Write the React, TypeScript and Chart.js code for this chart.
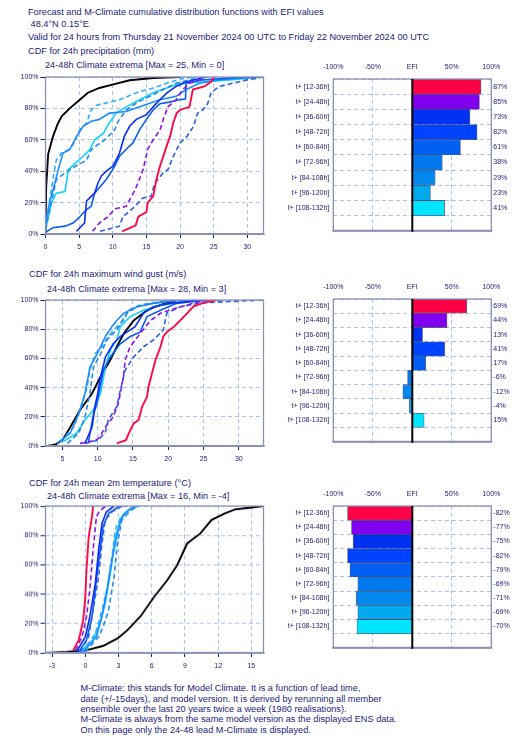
import React, { useEffect, useRef } from 'react';
import { Chart, registerables } from 'chart.js';
Chart.register(...registerables);

const NAVY = '#1c1c78';
const GRID = '#a9c3f2';
const FRAME = '#8a90b4';
const FONT = '"Liberation Sans", Arial, Helvetica, sans-serif';

type Pt = [number, number];

// ---------- categories / ticks ----------
const LEADS = ['t+ [12-36h]', 't+ [24-48h]', 't+ [36-60h]', 't+ [48-72h]', 't+ [60-84h]', 't+ [72-96h]', 't+ [84-108h]', 't+ [96-120h]', 't+ [108-132h]', ''];
const CDF_Y_TICKS = [0, 20, 40, 60, 80, 100];
const EFI_X_TICKS = [-100, -50, 0, 50, 100];
const PRECIP_X_TICKS = [0, 5, 10, 15, 20, 25, 30];
const WIND_X_TICKS = [5, 10, 15, 20, 25, 30];
const TEMP_X_TICKS = [-3, 0, 3, 6, 9, 12, 15];

// ---------- EFI values (%) ----------
const EFI_PRECIP = [87, 85, 73, 82, 61, 38, 29, 23, 41];
const EFI_WIND = [69, 44, 13, 41, 17, -6, -12, -4, 15];
const EFI_TEMP = [-82, -77, -75, -82, -79, -69, -71, -69, -70];

// ---------- precipitation CDFs (mm, %) ----------
const P_CLIM: Pt[] = [[0, 0.5], [0.1, 30], [0.4, 51], [1.1, 62], [1.8, 70], [2.4, 75], [3.6, 80], [5.1, 85.5], [6.3, 90], [8, 93], [9.8, 95], [12.5, 97.9], [16, 99.4], [20, 100]];
const P_12_36: Pt[] = [[11.4, 1.7], [13.4, 5.5], [13.8, 11], [15, 14], [15.2, 20], [16, 24], [16.5, 35], [17, 43], [17.7, 52], [18, 56], [18.5, 62], [19, 71], [19.5, 77], [20, 79], [21.4, 81], [21.9, 92], [23.6, 94], [24.6, 97], [24.9, 99], [25.1, 100]];
const P_24_48: Pt[] = [[7, 1.7], [8, 7], [9.3, 11], [10.3, 16], [12, 17.6], [13.3, 28], [13.7, 32], [14.5, 41], [15.2, 54], [16, 60], [17, 66], [17.5, 73], [18.2, 81], [19.4, 85.5], [20.4, 92], [21.4, 96], [22.8, 98], [23.6, 100]];
const P_36_60: Pt[] = [[4.6, 1.7], [5.8, 7], [6.1, 21], [6.8, 24], [7.3, 26], [7.8, 32.5], [8.3, 37], [9.3, 41], [10, 43], [11, 51.6], [11.7, 62], [12.5, 68.6], [13.5, 73], [15, 76], [16, 81], [17, 85.5], [18.1, 90], [19.4, 94], [21, 97], [22.9, 99], [23.9, 100]];
const P_48_72: Pt[] = [[8.1, 1.7], [11, 5], [11.5, 11], [13, 16.5], [14.5, 23], [15.7, 24], [16.2, 32], [17.5, 39], [18.2, 41], [19, 49.5], [20, 58], [21, 62], [22, 68.6], [22.6, 77], [23.4, 79], [24.1, 83], [24.6, 90], [25.8, 94], [27.8, 96], [29.8, 98], [32.4, 100]];
const P_60_84: Pt[] = [[0, 1], [1.1, 4], [2.9, 5], [4.1, 7], [5.1, 11], [6.1, 15.5], [6.8, 17.6], [7.3, 26], [9, 34.6], [10, 41], [11, 49.5], [12, 54], [13, 58], [14, 66.5], [15, 73], [16, 79], [17, 83], [18.4, 84], [19.9, 85.5], [20.8, 86], [20.9, 96], [23, 98], [28, 99.5], [32.4, 100]];
const P_72_96: Pt[] = [[0, 2.8], [1.6, 34.6], [2.9, 38.8], [3.6, 41], [4.8, 44], [6.1, 47], [6.8, 53.7], [7.8, 57], [8.8, 60], [9.5, 63], [10.3, 66.5], [10.8, 71.8], [12, 79], [13.5, 83.4], [15.5, 87.7], [17.5, 92], [19.4, 96], [21.9, 98.7], [23.9, 100]];
const P_84_108: Pt[] = [[0, 5], [0.6, 20], [1.4, 32.5], [1.9, 41], [2.6, 51.6], [3.6, 53.7], [4.6, 62], [5.6, 68.6], [6.8, 71.8], [8, 73], [9.5, 77], [12, 78], [14, 81], [17, 85.5], [19.4, 87.7], [20.9, 92], [22.9, 96], [25.9, 98.3], [30.8, 100]];
const P_96_120: Pt[] = [[0, 5], [0.4, 15.5], [1.1, 34.6], [1.6, 47], [2.4, 51.6], [3.4, 53.7], [4.1, 57], [5.1, 66.5], [6.1, 70.7], [6.8, 79], [7.6, 82], [9, 83.4], [11, 85.5], [13.5, 90], [16, 93], [18, 96], [20, 98.7], [22, 100]];
const P_108_132: Pt[] = [[0, 2.8], [0.9, 20], [1.6, 26], [2.9, 27], [3.4, 41], [4.4, 45], [5.6, 49.5], [6.6, 53.7], [7.3, 60], [8.6, 64], [9.3, 69.6], [10.5, 77], [12, 81], [14, 85.5], [16, 90], [18, 93], [20, 96], [23.9, 97], [27.8, 98.3], [32.4, 100]];

// ---------- wind gust CDFs (m/s, %) ----------
const W_CLIM: Pt[] = [[2.8, 0], [3.5, 0.5], [4, 1], [5, 4], [6, 12], [7.5, 24.7], [9.2, 36], [10.4, 47.5], [11.8, 59], [12.7, 68], [13.7, 77], [15.1, 86], [17, 93], [18.9, 96.6], [21.2, 100]];
const W_12_36: Pt[] = [[12.7, 1.8], [14, 4], [14.4, 8.7], [15.1, 15.5], [15.8, 17.8], [16.3, 27], [17, 33.8], [17.2, 40.6], [17.7, 49.8], [18.2, 59], [18.9, 68], [19.3, 75], [19.8, 78], [20.8, 81.7], [21.7, 86], [22.7, 91], [23.6, 95.6], [25, 98], [26.9, 100]];
const W_24_48: Pt[] = [[7.5, 1.8], [8.9, 3], [10.1, 5], [11.1, 13], [12.2, 20], [12.9, 29], [13.4, 40.6], [13.7, 49.8], [13.9, 59], [14.6, 68], [16, 77], [17.5, 86], [18.9, 91], [20.8, 94], [22.7, 96.6], [24.6, 99], [25.5, 100]];
const W_36_60: Pt[] = [[8.2, 1.8], [9.2, 13], [9.6, 27], [10, 36], [10.4, 47.5], [11.1, 61], [12.2, 70], [13.2, 75], [14.6, 79.5], [15.3, 81.7], [16.5, 91], [17.9, 95.4], [20.3, 97.7], [23.6, 99.5], [25.5, 100]];
const W_48_72: Pt[] = [[8.2, 1.8], [10.1, 4], [11.1, 9.8], [11.5, 17.8], [12.7, 27], [13.2, 38], [13.9, 52], [15.1, 61], [16.5, 68], [17.9, 72.6], [19.3, 79.5], [19.8, 91], [21.7, 95.4], [24.6, 98], [33.5, 100]];
const W_60_84: Pt[] = [[8.7, 3], [9.4, 22], [9.9, 29], [10.8, 52], [11.8, 61], [12.7, 67], [13.2, 70], [14.6, 75], [16, 78], [17, 88.6], [18.9, 93], [21.2, 97.7], [24.6, 99.5], [27.4, 100]];
const W_72_96: Pt[] = [[5.7, 1.8], [7.3, 8.7], [8.2, 20], [8.9, 36], [9.4, 54], [10.4, 63], [11.3, 72.6], [12.7, 79.5], [14.1, 91], [15.6, 95.4], [17.9, 98], [20.8, 100]];
const W_84_108: Pt[] = [[4.2, 1.8], [6.1, 8.7], [7.3, 22], [8.2, 36], [8.9, 54], [9.9, 63], [11.1, 75], [12, 81.7], [12.7, 86], [13.7, 91], [15.6, 95.4], [17.9, 97.7], [20.8, 99.5], [23.6, 100]];
const W_96_120: Pt[] = [[4.7, 3], [6.6, 13], [7.7, 27], [8.5, 40.6], [8.9, 52], [9.6, 63], [10.6, 68], [11.5, 75], [12.7, 81.7], [13.7, 86], [14.4, 93], [16, 96.6], [18.9, 98.9], [21.2, 100]];
const W_108_132: Pt[] = [[5.1, 3], [7, 8.7], [8.2, 17.8], [9.4, 24.7], [10.4, 36], [11.1, 54], [11.8, 65.8], [12.7, 72.6], [13.2, 81.7], [14.6, 88.6], [16.5, 93], [18.9, 96.6], [22.7, 99], [26.4, 100]];

// ---------- 2m temperature CDFs (°C, %) ----------
const T_CLIM: Pt[] = [[-3.6, 0], [-1.7, 0.7], [0.1, 1.8], [1.6, 4.8], [2.9, 9.8], [3.8, 15.5], [5, 25], [6.2, 38], [7.4, 49.5], [8.3, 59.8], [9.2, 74.5], [10.4, 81.4], [11.4, 90.5], [12.6, 95], [13.5, 97.7], [15, 99], [16.1, 100]];
const T_12_36: Pt[] = [[-1.1, 1.8], [-0.6, 8.6], [-0.2, 22], [0, 38], [0.1, 56], [0.3, 79], [0.6, 92.7], [0.7, 100]];
const T_24_48: Pt[] = [[-0.9, 1.8], [-0.3, 11], [0.1, 24.5], [0.4, 42.7], [0.7, 70], [1, 92.7], [1.3, 97], [1.9, 100]];
const T_36_60: Pt[] = [[-0.8, 0.7], [0, 11], [0.4, 24.5], [0.9, 47], [1.2, 70], [1.5, 88], [1.9, 96], [2.6, 100]];
const T_48_72: Pt[] = [[-0.5, 0.7], [0.3, 11], [0.7, 29], [1.2, 51.8], [1.5, 74.5], [1.8, 90.5], [2.4, 96], [3.2, 99.5], [3.8, 100]];
const T_60_84: Pt[] = [[-0.6, 0.7], [0.1, 8.6], [0.6, 24.5], [1, 49.5], [1.3, 67.7], [1.6, 86], [2.1, 95], [2.9, 99], [3.2, 100]];
const T_72_96: Pt[] = [[0, 0.7], [1.2, 11], [1.6, 17.7], [2.1, 29], [2.6, 51.8], [2.9, 74.5], [3.3, 90.5], [4.1, 97], [4.8, 100]];
const T_84_108: Pt[] = [[-0.2, 0.7], [1, 11], [1.5, 24.5], [1.9, 40.5], [2.4, 63], [2.9, 81.4], [3.3, 92.7], [4.1, 98.4], [4.7, 100]];
const T_96_120: Pt[] = [[-0.3, 0.7], [0.9, 13], [1.5, 29], [2, 45], [2.4, 65.5], [2.7, 83.6], [3.2, 92.7], [3.8, 97], [4.5, 99.5], [5, 100]];
const T_108_132: Pt[] = [[-0.5, 0.7], [0.7, 8.6], [1.3, 20], [1.8, 33.6], [2.3, 56], [2.7, 79], [3.2, 90.5], [3.8, 97], [4.7, 100]];

// ---------- styles ----------
const LINE_COLORS = ['#ff0844', '#8a10f0', '#0a2cf0', '#2a5ee8', '#0a5cf0', '#2288ee', '#1a8cff', '#33aaff', '#10d0ff'];
const LINE_DASHED = [false, true, false, true, false, true, false, true, false];
const BAR_COLORS = ['#ff0044', '#8200f0', '#0030f0', '#0044ff', '#0060f4', '#0078ee', '#0088ee', '#00a8ee', '#00e5ff'];

const framePlugin = {
  id: 'frame',
  afterDatasetsDraw(chart: any) {
    const { ctx, chartArea } = chart;
    const { left, top, right, bottom } = chartArea;
    ctx.save();
    ctx.strokeStyle = FRAME;
    ctx.lineWidth = 1.3;
    ctx.strokeRect(left, top, right - left, bottom - top);
    ctx.beginPath();
    ctx.lineWidth = 2;
    ctx.moveTo(left - 1, bottom);
    ctx.lineTo(right + 1, bottom);
    ctx.stroke();
    if (chart.config.options.indexAxis === 'y') {
      const x0 = chart.scales.x.getPixelForValue(0);
      ctx.beginPath();
      ctx.strokeStyle = '#000';
      ctx.lineWidth = 2;
      ctx.moveTo(x0, top);
      ctx.lineTo(x0, bottom + 1);
      ctx.stroke();
    }
    ctx.restore();
  },
};

const CDF_W = 270;
const CDF_LEFT = 45.5;
const CDF_RIGHT = 263.5;
const CDF_PAD_T = 8;
const CDF_X_H = 24;

function CdfChart(props: { plotTop: number; plotBottom: number; xMin: number; xMax: number; xTicks: number[]; clim: Pt[]; series: Pt[][] }) {
  const ref = useRef<HTMLCanvasElement>(null);
  const { plotTop, plotBottom, xMin, xMax, xTicks, clim, series } = props;
  const H = plotBottom - plotTop + CDF_PAD_T + CDF_X_H;
  useEffect(() => {
    const datasets: any[] = series.map((pts, i) => ({
      data: pts.map(([x, y]) => ({ x, y })),
      borderColor: LINE_COLORS[i],
      borderWidth: i === 0 ? 1.9 : 1.6,
      borderDash: LINE_DASHED[i] ? [5, 3] : [],
      pointRadius: 0,
      tension: 0,
      fill: false,
    }));
    datasets.push({
      data: clim.map(([x, y]) => ({ x, y })),
      borderColor: '#000',
      borderWidth: 1.9,
      pointRadius: 0,
      tension: 0,
      fill: false,
    });
    const tickFont = { family: FONT, size: 7 };
    const chart = new Chart(ref.current!, {
      type: 'line',
      data: { datasets },
      plugins: [framePlugin],
      options: {
        animation: false,
        responsive: false,
        events: [],
        layout: { padding: { top: CDF_PAD_T, right: CDF_W - CDF_RIGHT, left: 0, bottom: 0 } },
        plugins: { legend: { display: false }, tooltip: { enabled: false } },
        scales: {
          x: {
            type: 'linear',
            min: xMin,
            max: xMax,
            afterBuildTicks: (s: any) => { s.ticks = xTicks.map((v) => ({ value: v })); },
            afterFit: (s: any) => { s.height = CDF_X_H; },
            grid: { color: GRID, lineWidth: 1, tickColor: NAVY, tickLength: 4 },
            border: { display: false, dash: [4, 3] },
            ticks: { color: NAVY, font: tickFont, padding: 5, maxRotation: 0, autoSkip: false },
          },
          y: {
            type: 'linear',
            min: 0,
            max: 100,
            afterBuildTicks: (s: any) => { s.ticks = CDF_Y_TICKS.map((v) => ({ value: v })); },
            afterFit: (s: any) => { s.width = CDF_LEFT; },
            grid: { color: GRID, lineWidth: 1, tickColor: NAVY, tickLength: 5 },
            border: { display: false, dash: [4, 3] },
            ticks: { color: NAVY, font: tickFont, padding: 2, callback: (v: any) => v + '%' },
          },
        },
      } as any,
    });
    return () => chart.destroy();
  }, []);
  return (
    <canvas
      ref={ref}
      width={CDF_W}
      height={H}
      style={{ position: 'absolute', left: 0, top: plotTop - CDF_PAD_T, width: CDF_W, height: H }}
    />
  );
}

const EFI_LEFT = 280;
const EFI_W = 252;
const EFI_AXIS_L = 53.3;
const EFI_AXIS_R = 40.7;
const EFI_TOP_H = 20;

function EfiChart(props: { plotTop: number; plotBottom: number; values: number[] }) {
  const ref = useRef<HTMLCanvasElement>(null);
  const { plotTop, plotBottom, values } = props;
  const H = plotBottom - plotTop + EFI_TOP_H + 4;
  useEffect(() => {
    const tickFont = { family: FONT, size: 7 };
    const chart = new Chart(ref.current!, {
      type: 'bar',
      data: {
        labels: LEADS,
        datasets: [{
          data: values,
          backgroundColor: BAR_COLORS,
          borderColor: 'rgba(50,50,90,0.75)',
          borderWidth: 0.8,
          barPercentage: 1,
          categoryPercentage: 1,
        }],
      },
      plugins: [framePlugin],
      options: {
        indexAxis: 'y',
        animation: false,
        responsive: false,
        events: [],
        layout: { padding: { top: 0, right: 0, left: 0, bottom: 4 } },
        plugins: { legend: { display: false }, tooltip: { enabled: false } },
        scales: {
          x: {
            type: 'linear',
            position: 'top',
            min: -100,
            max: 100,
            afterBuildTicks: (s: any) => { s.ticks = EFI_X_TICKS.map((v) => ({ value: v })); },
            afterFit: (s: any) => { s.height = EFI_TOP_H; },
            grid: { color: GRID, lineWidth: 1, drawTicks: false },
            border: { display: false, dash: [4, 3] },
            ticks: { color: NAVY, font: tickFont, padding: 8, maxRotation: 0, autoSkip: false, callback: (v: any) => (v === 0 ? 'EFI' : v + '%') },
          },
          y: {
            type: 'category',
            position: 'left',
            afterFit: (s: any) => { s.width = EFI_AXIS_L; },
            grid: { color: GRID, lineWidth: 1, offset: true, drawTicks: false },
            border: { display: false, dash: [4, 3] },
            ticks: { color: NAVY, font: tickFont, padding: 4, autoSkip: false },
          },
          y2: {
            type: 'category',
            position: 'right',
            labels: values.map((v) => v + '%').concat(['']),
            offset: true,
            afterFit: (s: any) => { s.width = EFI_AXIS_R; },
            grid: { display: false, drawTicks: false },
            border: { display: false },
            ticks: { color: NAVY, font: tickFont, padding: 2, autoSkip: false },
          },
        },
      } as any,
    });
    return () => chart.destroy();
  }, []);
  return (
    <canvas
      ref={ref}
      width={EFI_W}
      height={H}
      style={{ position: 'absolute', left: EFI_LEFT, top: plotTop - EFI_TOP_H, width: EFI_W, height: H }}
    />
  );
}

function Txt(props: { x: number; y: number; size: number; text: string }) {
  return (
    <div
      style={{
        position: 'absolute',
        left: props.x,
        top: props.y - props.size * 0.6,
        fontSize: props.size,
        lineHeight: `${props.size * 1.2}px`,
        whiteSpace: 'pre',
        color: NAVY,
        fontFamily: FONT,
      }}
    >
      {props.text}
    </div>
  );
}

const FOOTER = [
  'M-Climate: this stands for Model Climate. It is a function of lead time,',
  'date (+/-15days), and model version. It is derived by rerunning all member',
  'ensemble over the last 20 years twice a week (1980 realisations).',
  'M-Climate is always from the same model version as the displayed ENS data.',
  'On this page only the 24-48 lead M-Climate is displayed.',
];

const HEAD = 9.2;

export default function App() {
  return (
    <div style={{ position: 'absolute', left: 0, top: 0, width: 532, height: 750, background: '#fff', overflow: 'hidden' }}>
      <Txt x={28} y={12.5} size={HEAD} text="Forecast and M-Climate cumulative distribution functions with EFI values" />
      <Txt x={28} y={25} size={HEAD} text=" 48.4°N 0.15°E" />
      <Txt x={28} y={37.5} size={HEAD} text="Valid for 24 hours from Thursday 21 November 2024 00 UTC to Friday 22 November 2024 00 UTC" />
      <Txt x={28} y={51.5} size={HEAD} text="CDF for 24h precipitation (mm)" />
      <Txt x={45} y={65.5} size={HEAD} text="24-48h Climate extrema [Max = 25, Min = 0]" />
      <CdfChart plotTop={77} plotBottom={234} xMin={0} xMax={32.4} xTicks={PRECIP_X_TICKS} clim={P_CLIM}
        series={[P_12_36, P_24_48, P_36_60, P_48_72, P_60_84, P_72_96, P_84_108, P_96_120, P_108_132]} />
      <EfiChart plotTop={79} plotBottom={235} values={EFI_PRECIP} />

      <Txt x={29} y={275} size={HEAD} text="CDF for 24h maximum wind gust (m/s)" />
      <Txt x={47} y={290} size={HEAD} text="24-48h Climate extrema [Max = 28, Min = 3]" />
      <CdfChart plotTop={300} plotBottom={446} xMin={2.6} xMax={33.5} xTicks={WIND_X_TICKS} clim={W_CLIM}
        series={[W_12_36, W_24_48, W_36_60, W_48_72, W_60_84, W_72_96, W_84_108, W_96_120, W_108_132]} />
      <EfiChart plotTop={299} plotBottom={446} values={EFI_WIND} />

      <Txt x={29} y={484} size={HEAD} text="CDF for 24h mean 2m temperature (°C)" />
      <Txt x={47} y={497} size={HEAD} text="24-48h Climate extrema [Max = 16, Min = -4]" />
      <CdfChart plotTop={506} plotBottom={652.5} xMin={-3.6} xMax={16.1} xTicks={TEMP_X_TICKS} clim={T_CLIM}
        series={[T_12_36, T_24_48, T_36_60, T_48_72, T_60_84, T_72_96, T_84_108, T_96_120, T_108_132]} />
      <EfiChart plotTop={506} plotBottom={652} values={EFI_TEMP} />

      {FOOTER.map((t, i) => (
        <Txt key={i} x={80.5} y={689 + i * 10.3} size={9.2} text={t} />
      ))}
    </div>
  );
}
